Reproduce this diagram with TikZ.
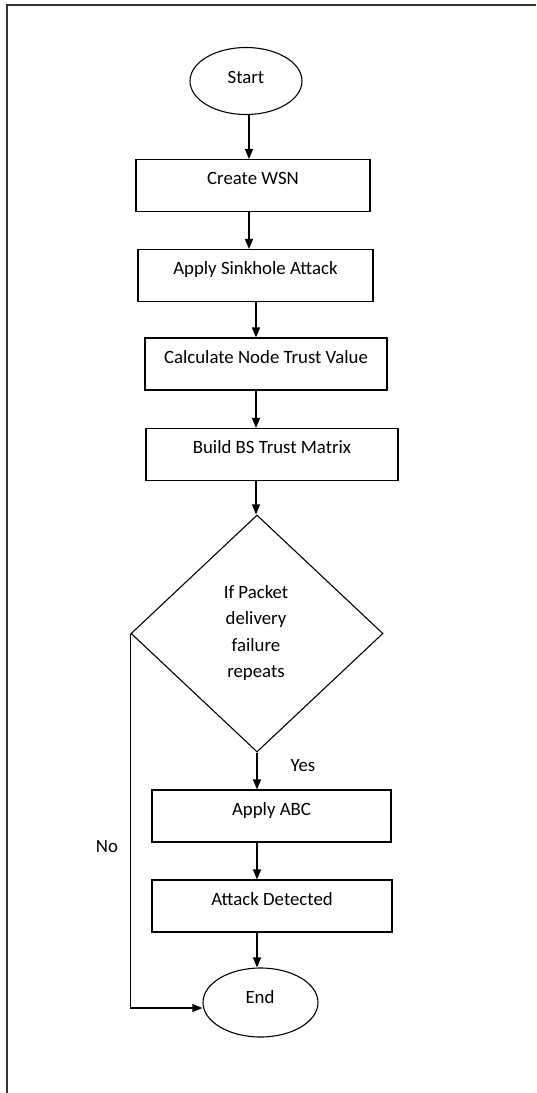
\documentclass[tikz,border=0pt]{standalone}
\usepackage{fontspec}
\setmainfont{Carlito}
\usetikzlibrary{shapes.geometric,arrows.meta}
\begin{document}
\begin{tikzpicture}[x=1pt,y=-1pt,
  every node/.style={font=\fontsize{18.8}{22}\selectfont},
  term/.style={ellipse,draw,line width=1.1pt,inner sep=0pt},
  proc/.style={rectangle,draw,line width=1.1pt,inner xsep=0pt,inner ysep=0pt,text height=25pt,text depth=27pt},
  dec/.style={diamond,draw,line width=1.1pt,inner sep=0pt,minimum width=252pt,minimum height=237pt,aspect=1.06},
  arr/.style={line width=1.1pt,-{Triangle[width=8pt,length=10pt]}},
  lbl/.style={inner sep=0pt}
]
\fill[white] (0,0) rectangle (536,1093);
\useasboundingbox (0,0) rectangle (536,1093);
\draw[line width=1.4pt,black!80] (7,1093) -- (7,5) -- (536,5);

\node[term,minimum width=112pt,minimum height=67pt] (start) at (246,81) {};
\node[lbl] (starttxt) at (246,77) {Start};
\node[proc,minimum width=234pt] (wsn) at (253,185.5) {Create WSN};
\node[proc,minimum width=235pt] (sink) at (255.5,275.5) {Apply Sinkhole Attack};
\node[proc,minimum width=242pt] (calc) at (266,364) {Calculate Node Trust Value};
\node[proc,minimum width=252pt] (bs) at (272,454.5) {Build BS Trust Matrix};
\node[dec] (dec) at (257,633.5) {};
\node[lbl,align=center,font=\fontsize{18.8}{26.5}\selectfont] (dectxt) at (256,633) {If Packet\\delivery\\failure\\repeats};
\node[proc,minimum width=239pt] (abc) at (271.5,816) {Apply ABC};
\node[proc,minimum width=240pt] (att) at (272,906) {Attack Detected};
\node[term,minimum width=115pt,minimum height=69pt] (end) at (260.5,1002.5) {};
\node[lbl] (endtxt) at (260,997) {End};
\node[lbl] (yes) at (303,766) {Yes};
\node[lbl] (no) at (107,847) {No};

\draw[arr] ([xshift=3pt]start.south) -- ([xshift=3pt]start.south |- wsn.north);
\draw[arr] ([xshift=-4pt]wsn.south) -- ([xshift=-4pt]wsn.south |- sink.north);
\draw[arr] ([xshift=0.5pt]sink.south) -- ([xshift=0.5pt]sink.south |- calc.north);
\draw[arr] ([xshift=-10pt]calc.south) -- ([xshift=-10pt]calc.south |- bs.north);
\draw[arr] ([xshift=-16pt]bs.south) -- ([xshift=-16pt]bs.south |- dec.north);
\draw[arr] (dec.south) -- (dec.south |- abc.north);
\draw[arr] ([xshift=-14.5pt]abc.south) -- ([xshift=-14.5pt]abc.south |- att.north);
\draw[arr] ([xshift=-15pt]att.south) -- ([xshift=-15pt]att.south |- end.north);
\coordinate (endin) at ([yshift=-5.5pt]end.west);
\coordinate (nocorner) at (dec.west |- endin);
\draw[arr] (dec.west) -- (nocorner) -- (endin);
\end{tikzpicture}
\end{document}
